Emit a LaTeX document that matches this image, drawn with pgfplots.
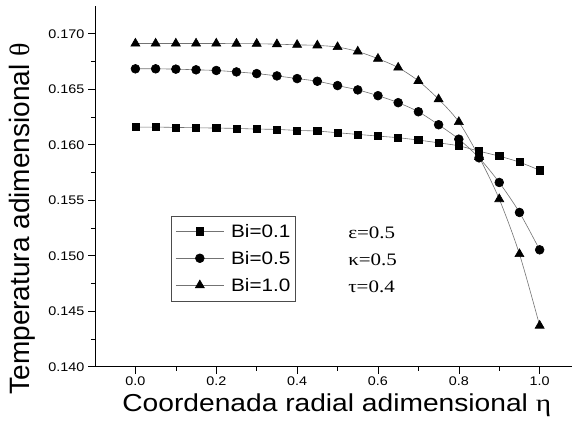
\documentclass[border=0pt]{standalone}
\usepackage{fontspec}
\setmainfont{Liberation Sans}
\newfontfamily\wide{Liberation Sans}[FakeStretch=1.15]
\newfontfamily\serif{Liberation Serif}
\newfontfamily\wideserif{Liberation Serif}[FakeStretch=1.2]
\usepackage{pgfplots}
\pgfplotsset{compat=1.18}
\usetikzlibrary{calc}

\pgfplotstableread{
x     a        b        c
0.00  0.16159  0.16684  0.16912
0.05  0.16159  0.16684  0.16912
0.10  0.16156  0.16681  0.16912
0.15  0.16153  0.16675  0.16912
0.20  0.16150  0.16669  0.16912
0.25  0.16147  0.16656  0.16911
0.30  0.16141  0.16641  0.16910
0.35  0.16138  0.16620  0.16906
0.40  0.16129  0.16596  0.16900
0.45  0.16123  0.16572  0.16895
0.50  0.16108  0.16533  0.16880
0.55  0.16093  0.16494  0.16840
0.60  0.16078  0.16442  0.16775
0.65  0.16063  0.16379  0.16695
0.70  0.16042  0.16297  0.16575
0.75  0.16017  0.16180  0.16410
0.80  0.15990  0.16050  0.16205
0.85  0.15942  0.15882  0.15890
0.90  0.15897  0.15660  0.15510
0.95  0.15843  0.15390  0.15015
1.00  0.15770  0.15053  0.14370
}\datatable

\begin{document}
\begin{tikzpicture}
\begin{axis}[name=ax, scale only axis, width=477pt, height=360.7pt,
  xmin=-0.1, xmax=1.08, ymin=0.140, ymax=0.1725,
  axis lines=left, axis line style={-, line width=0.8pt},
  tick align=outside, major tick length=7pt, minor tick length=4pt,
  tick style={line width=0.6pt, black},
  xtick={0,0.2,0.4,0.6,0.8,1.0}, minor x tick num=1,
  ytick={0.140,0.145,0.150,0.155,0.160,0.165,0.170}, minor y tick num=1,
  scaled y ticks=false, scaled x ticks=false,
  /pgf/number format/assume math mode=true,
  x tick label style={/pgf/number format/fixed, /pgf/number format/fixed zerofill, /pgf/number format/precision=1},
  y tick label style={/pgf/number format/fixed, /pgf/number format/fixed zerofill, /pgf/number format/precision=3},
  tick label style={font=\wide\fontsize{12.5}{15}\selectfont},
  xlabel={Coordenada radial adimensional {\wideserif η}},
  ylabel={Temperatura adimensional {\serif θ}},
  xlabel style={font=\wide\fontsize{24.5}{30}\selectfont, at={(axis description cs:0.507,-0.106)}, anchor=center},
  ylabel style={font=\fontsize{28}{30}\selectfont, at={(axis description cs:-0.153,0.41)}, anchor=center},
  legend style={at={(axis description cs:0.159,0.419)}, anchor=north west,
    font=\wide\fontsize{18}{21}\selectfont, draw=black!70,
    inner xsep=4.5pt, inner ysep=9pt, row sep=14pt, column sep=7pt,
    nodes={inner sep=0pt, text height=13pt, text depth=0pt}},
  legend cell align=left,
  legend image code/.code={\draw[mark repeat=2,mark phase=2] plot coordinates {(0pt,0pt) (24pt,0pt) (48pt,0pt)};},
]
\addplot[black!55, line width=0.6pt, smooth, mark=square*, mark size=3.6pt, mark options={black, solid, fill=black}] table[x=x,y=a] {\datatable};
\addlegendentry{Bi=0.1}
\addplot[black!55, line width=0.6pt, smooth, mark=*, mark size=4.4pt, mark options={black, solid, fill=black}] table[x=x,y=b] {\datatable};
\addlegendentry{Bi=0.5}
\addplot[black!55, line width=0.6pt, smooth, mark=triangle*, mark size=5.2pt, mark options={black, solid, fill=black}] table[x=x,y=c] {\datatable};
\addlegendentry{Bi=1.0}
\node[anchor=west, inner sep=0pt, font=\wideserif\fontsize{17.5}{20}\selectfont] at (axis cs:0.526,0.1521) {ε=0.5};
\node[anchor=west, inner sep=0pt, font=\wideserif\fontsize{17.5}{20}\selectfont] at (axis cs:0.526,0.1496) {κ=0.5};
\node[anchor=west, inner sep=0pt, font=\wideserif\fontsize{17.5}{20}\selectfont] at (axis cs:0.526,0.1472) {τ=0.4};
\end{axis}
\pgfresetboundingbox
\path[use as bounding box] ($(ax.south west)+(-95pt,-69.3pt)$) rectangle ($(ax.north east)+(0pt,6pt)$);
\end{tikzpicture}
\end{document}
